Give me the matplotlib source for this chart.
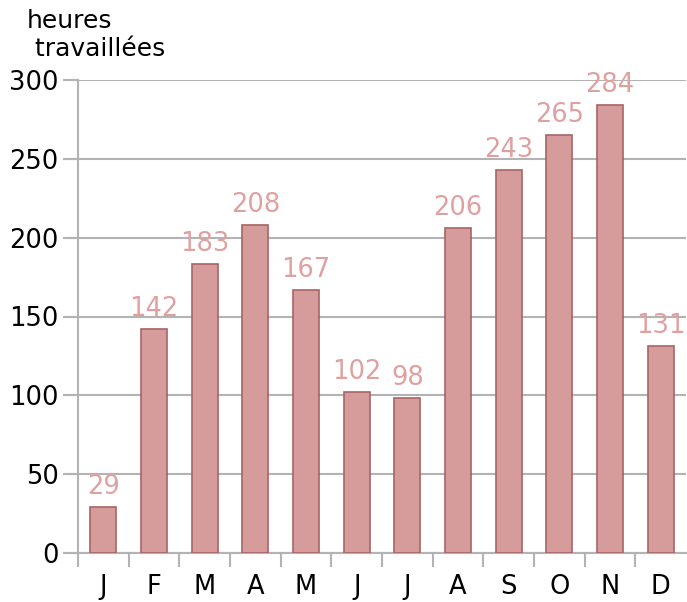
import matplotlib.pyplot as plt
import numpy as np

# Monthly worked hours
months = ['J', 'F', 'M', 'A', 'M', 'J', 'J', 'A', 'S', 'O', 'N', 'D']
hours = [29, 142, 183, 208, 167, 102, 98, 206, 243, 265, 284, 131]

grey = '#b3b3b3'
bar_color = '#d69b9b'
edge_color = '#a86464'
label_color = '#e0a0a0'
fs = 18.5

fig = plt.figure(figsize=(6.87, 6.02), dpi=100)
ax = fig.add_axes([78 / 687, 49 / 602, 608 / 687, 473 / 602])

x = np.arange(len(months))
ax.bar(x, hours, width=0.51, color=bar_color, edgecolor=edge_color, linewidth=1.2, zorder=3)
for xi, h in zip(x, hours):
    ax.text(xi, h + 4.5, str(h), ha='center', va='bottom', fontsize=fs, color=label_color, zorder=4)

ax.set_xlim(-0.5, len(months) - 0.5)
ax.set_ylim(0, 300)
ax.set_yticks(range(0, 301, 50))
ax.tick_params(axis='y', labelsize=fs, length=11, width=1.5, color=grey, pad=3)
ax.yaxis.grid(True, color=grey, linewidth=1.5, zorder=0)

# month labels centred, ticks at category boundaries
ax.set_xticks(x)
ax.set_xticklabels(months, fontsize=fs)
ax.tick_params(axis='x', which='major', length=0, pad=15)
ax.set_xticks(np.arange(-0.5, len(months) - 0.5, 1), minor=True)
ax.tick_params(axis='x', which='minor', length=10, width=1.5, color=grey)

for s in ['top', 'right']:
    ax.spines[s].set_visible(False)
for s in ['left', 'bottom']:
    ax.spines[s].set_color(grey)
    ax.spines[s].set_linewidth(1.5)

# grid lines stretch left over the tick marks
for yv in range(0, 301, 50):
    ax.plot([-0.5 - 11 / 50.7, -0.5], [yv, yv], color=grey, lw=1.5, clip_on=False)

fig.text(27 / 687, 1 - 9 / 602, 'heures\n travaillées', fontsize=18, ha='left', va='top',
         linespacing=1.2)

fig.savefig('out.png', dpi=100)
